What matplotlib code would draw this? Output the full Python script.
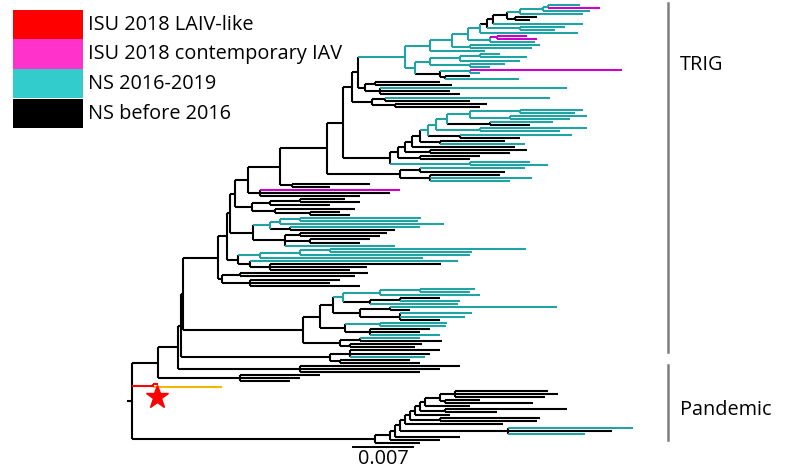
import matplotlib
matplotlib.use("Agg")
import matplotlib.pyplot as plt
from matplotlib.collections import LineCollection
from matplotlib.patches import Rectangle
from matplotlib import transforms

# Phylogenetic tree of NS gene segments (TRIG and pandemic lineages).
# Tip labels are colour codes: k = NS before 2016, t = NS 2016-2019,
# m = ISU 2018 contemporary IAV, r / o = ISU 2018 LAIV-like.
# Number after ':' is the divergence of the node from the root
# (tree units; 60 units = 0.007 substitutions/site).

# --- upper TRIG ---
T1a = ("((((((((((t:448,m:468):416,t:458):411,t:451):388,(k:405,k:398):383):375,"
       "t:451):361,(t:433,t:423):388):355,t:446):348,((m:395,m:405):365,t:403):358):336,"
       "(t:408,t:400):338):320,t:353):298")
T1b = "((((t:368,t:395):348,t:388):328,(t:373,t:358):338):298,((m:490,t:348):338,(k:338,t:387):313):308):283"
T2 = "((k:308,k:320):243,(t:435,k:318,k:328):248):233"
T2b = "((t:418,k:338):253,(k:355,k:348):263):240"
T3 = ("((((((((((t:451,t:443):388,(t:455,t:438):378):338,(t:421,k:398):358):315,"
      "(t:455,t:428):348):304,(t:440,k:388):328):296,(k:373,t:393):308):288,k:383):280,"
      "(k:395,k:378):298):273,(k:348,k:338):288):266,(t:398,t:416):338):258")
T4 = "((t:393,k:373):288,(k:368,t:400,t:378):298):268"
B177 = "(k:238,k:198):160"
T5 = "(m:268,k:258,k:228):128"
T6 = "(((k:213,k:228):168,k:198):138,(k:223,(k:208,k:218):178):143):120"
T7 = "((((t:289,t:286):168,t:312):148,(t:288,k:263):158):138,((k:255,k:248):168,(k:238,k:228):178,t:263):153):121"
T9 = "((((t:394,t:340):198,t:338):168,t:291):128,(t:326,(k:309,k:235,k:218):138):118):106"
T10 = "((k:236,k:223):108,(k:208,k:198,k:228):118):90"

# --- lower TRIG ---
L1 = "(((t:343,t:338):288,t:348):248,((k:308,t:328):268,t:326):238):211"
L2 = "((t:425,k:278):258,(t:340,t:333,k:308):268):228"
L3 = "((t:315,t:314):248,(k:298,k:288,t:308):238):213"
L4 = "((t:288,k:310):228,(k:290,k:283):218):208"
L5 = "((k:308,k:298,t:293):218,(k:278,k:288):208):198"
L6 = "(k:328,k:308,k:288):168"

BLK = "(k:188,k:168,k:158):108"
LAIV = "(r:26,o:90)r:21"

# --- pandemic ---
P_TOP = "(((k:416,k:426,k:413):323,(k:348,k:401):313):308,k:338):293"
P_SIDE = ["(k:435,k:365):313", "k:318", "(k:408,k:405):308", "k:371",
          "(t:501,k:480,t:453):376", "k:328", "k:308", "k:288"]
P_SPINE = [288, 283, 278, 273, 268, 263, 258, 243]

top = "(((" + T1a + "," + T1b + "):273," + T2 + "):226," + T2b + "):220"
top = "(" + top + "," + T3 + "):211"
upper = "(((((((" + top + "," + T4 + "):195," + B177 + "):148," + T5 + "):116," \
        + T6 + "):103," + T7 + "):98," + T9 + "):95," + T10 + "):86"
lower = "(((" + L1 + "," + L2 + "):201," + L3 + "):188," + L4 + "):171"
trig = "(((" + upper + "," + lower + "):51," + L5 + "):49," + L6 + "):46"
pan = P_TOP
for side, d in zip(P_SIDE, P_SPINE):
    pan = "(" + pan + "," + side + "):" + str(d)
main = "(" + trig + "," + BLK + "):26"
NEWICK = "(" + main + "," + LAIV + "," + pan + "):0"

LEGEND_LABELS = ["ISU 2018 LAIV-like", "ISU 2018 contemporary IAV", "NS 2016-2019", "NS before 2016"]
LEGEND_COLORS = ["#ff0000", "#ff33cc", "#33cccc", "#000000"]
BRANCH_COLORS = {"k": "#000000", "t": "#22a3a3", "m": "#cc00cc", "r": "#ff0000", "o": "#f2b705"}
SCALE_LEN = 60
SCALE_LABEL = "0.007"


def parse(s):
    pos = 0

    def node():
        nonlocal pos
        kids = []
        if s[pos] == "(":
            pos += 1
            kids.append(node())
            while s[pos] == ",":
                pos += 1
                kids.append(node())
            assert s[pos] == ")"
            pos += 1
        lab = ""
        while s[pos] != ":":
            lab += s[pos]
            pos += 1
        pos += 1
        num = ""
        while pos < len(s) and s[pos] not in ",)":
            num += s[pos]
            pos += 1
        return {"kids": kids, "lab": lab, "d": float(num)}

    root = node()
    assert pos == len(s)
    return root


tree = parse(NEWICK)
tips = []


def layout(n):
    if not n["kids"]:
        n["y"] = len(tips)
        tips.append(n)
        n["tips"] = [n["lab"]]
        n["col"] = n["lab"]
        return
    for c in n["kids"]:
        layout(c)
    n["y"] = (n["kids"][0]["y"] + n["kids"][-1]["y"]) / 2
    n["tips"] = sum((c["tips"] for c in n["kids"]), [])
    if n["lab"]:
        n["col"] = n["lab"]
    elif len(set(n["tips"])) == 1:
        n["col"] = n["tips"][0]
    else:
        recent = sum(1 for t in n["tips"] if t in "tm") / len(n["tips"])
        n["col"] = "t" if recent >= 0.8 else "k"


layout(tree)
segs = {k: [] for k in BRANCH_COLORS}


def collect(n, parent_d):
    segs[n["col"]].append([(parent_d, n["y"]), (n["d"], n["y"])])
    if n["kids"]:
        segs[n["col"]].append([(n["d"], n["kids"][0]["y"]), (n["d"], n["kids"][-1]["y"])])
        for c in n["kids"]:
            collect(c, n["d"])


collect(tree, tree["d"] - 5)

W, H = 788, 473
fig = plt.figure(figsize=(W / 100, H / 100), dpi=100)
plt.rcParams["font.family"] = ["Open Sans", "DejaVu Sans"]

ax = fig.add_axes([0, 0, 1, 1])
n_tips = len(tips)
step = (443 - 5) / (n_tips - 1)
ax.set_xlim(-132, W - 132)
ax.set_ylim((n_tips - 1) + (H - 443) / step, -5 / step)
ax.axis("off")
for z, k in enumerate(["k", "t", "m", "o", "r"]):
    ax.add_collection(LineCollection(segs[k], colors=BRANCH_COLORS[k], linewidths=1.5, zorder=2 + z,
                                     capstyle="butt"))

# overlay in pixel coordinates
ov = fig.add_axes([0, 0, 1, 1])
ov.set_xlim(0, W)
ov.set_ylim(H, 0)
ov.axis("off")
ov.patch.set_alpha(0)

for i, (lab, col) in enumerate(zip(LEGEND_LABELS, LEGEND_COLORS)):
    ov.add_patch(Rectangle((13, 10 + i * 29.5), 70, 29.5, color=col, lw=0))
    ov.text(88, 10 + i * 29.5 + 15, lab, fontsize=14.3, va="center", ha="left")

ov.plot([668, 668], [3, 352], color="#7f7f7f", lw=1.8)
ov.plot([668, 668], [365, 440], color="#7f7f7f", lw=1.8)
ov.text(680, 65, "TRIG", fontsize=14.3, va="center")
ov.text(680, 410, "Pandemic", fontsize=14.3, va="center")

ov.plot([157], [397], marker="*", color="#ff0000", markersize=17, lw=0)

bt = transforms.blended_transform_factory(ax.transData, ov.transData)
ax.plot([221, 221 + SCALE_LEN], [447, 447], color="black", lw=1.4, transform=bt)
ov.text(383, 459, SCALE_LABEL, fontsize=14.3, ha="center", va="center")

fig.savefig("out.png", dpi=100)
